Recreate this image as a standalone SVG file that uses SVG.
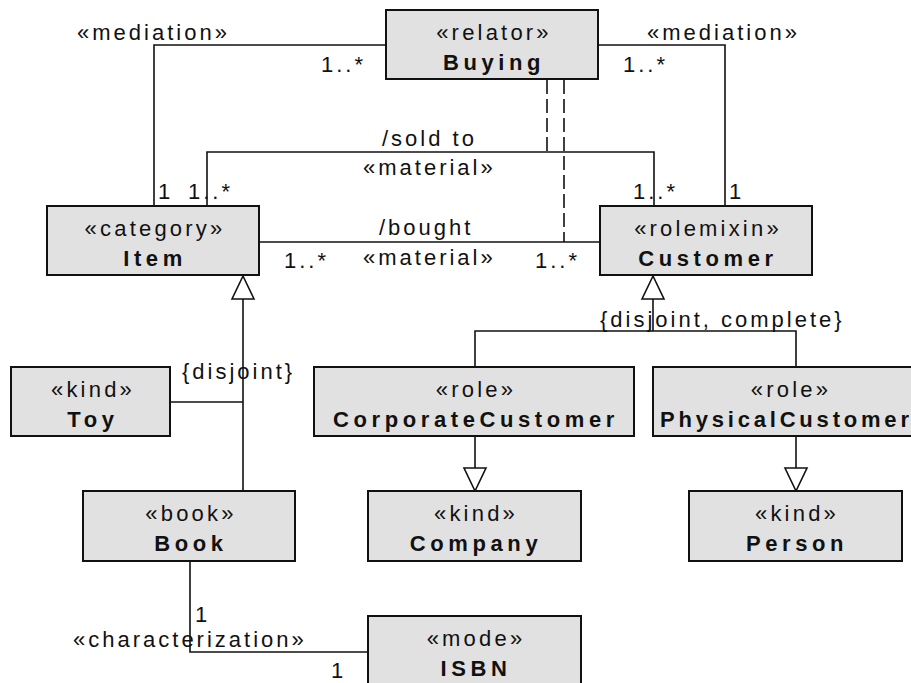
<svg xmlns="http://www.w3.org/2000/svg" width="911" height="683" viewBox="0 0 911 683">
  <style>
    .box { fill: #e1e1e1; stroke: #111; stroke-width: 2; }
    .st { font-family: "Liberation Sans", Arial, sans-serif; font-size: 22px; letter-spacing: 3.2px; fill: #111; text-anchor: middle; }
    .nm { font-family: "Liberation Sans", Arial, sans-serif; font-size: 22px; font-weight: bold; letter-spacing: 4.6px; fill: #111; text-anchor: middle; }
    .lbl { font-family: "Liberation Sans", Arial, sans-serif; font-size: 22px; letter-spacing: 3px; fill: #111; }
    .ln { fill: none; stroke: #111; stroke-width: 1.6; }
    .dash { fill: none; stroke: #111; stroke-width: 1.6; stroke-dasharray: 14 5; }
    .tri { fill: #fff; stroke: #111; stroke-width: 1.6; }
  </style>

  <!-- associations and generalizations -->
  <g id="connectors">
    <polyline class="ln" points="154,206 154,45 386,45"/>
    <polyline class="ln" points="598,45 725,45 725,206"/>
    <polyline class="ln" points="207,206 207,152 654,152 654,206"/>
    <line class="ln" x1="259" y1="242" x2="600" y2="242"/>
    <line class="dash" x1="547" y1="80" x2="547" y2="152"/>
    <line class="dash" x1="564" y1="80" x2="564" y2="242"/>

    <!-- Item specializations -->
    <line class="ln" x1="243" y1="491" x2="243" y2="299"/>
    <line class="ln" x1="170" y1="402" x2="243" y2="402"/>
    <polygon class="tri" points="243,276 232,299 254,299"/>

    <!-- Customer specializations -->
    <line class="ln" x1="653" y1="299" x2="653" y2="331"/>
    <polyline class="ln" points="475,367 475,331 796,331 796,367"/>
    <polygon class="tri" points="653,276 642,299 664,299"/>

    <line class="ln" x1="475" y1="436" x2="475" y2="468"/>
    <polygon class="tri" points="464,468 486,468 475,491"/>
    <line class="ln" x1="796" y1="436" x2="796" y2="468"/>
    <polygon class="tri" points="785,468 807,468 796,491"/>

    <!-- characterization -->
    <polyline class="ln" points="190,561 190,652 368,652"/>

    <!-- labels -->
    <text class="lbl" x="77" y="40">«mediation»</text>
    <text class="lbl" x="321" y="72">1..*</text>
    <text class="lbl" x="647" y="40">«mediation»</text>
    <text class="lbl" x="623" y="72">1..*</text>
    <text class="lbl" x="382" y="146">/sold to</text>
    <text class="lbl" x="363" y="175">«material»</text>
    <text class="lbl" x="379" y="235">/bought</text>
    <text class="lbl" x="363" y="265">«material»</text>
    <text class="lbl" x="284" y="268">1..*</text>
    <text class="lbl" x="535" y="268">1..*</text>
    <text class="lbl" x="158" y="199">1</text>
    <text class="lbl" x="188" y="199">1..*</text>
    <text class="lbl" x="633" y="199">1..*</text>
    <text class="lbl" x="729" y="199">1</text>
    <text class="lbl" x="182" y="379">{disjoint}</text>
    <text class="lbl" x="600" y="327">{disjoint, complete}</text>
    <text class="lbl" x="195" y="622">1</text>
    <text class="lbl" x="73" y="647">«characterization»</text>
    <text class="lbl" x="331" y="678">1</text>
  </g>

  <g id="buying">
    <rect class="box" x="386" y="10" width="212" height="69"/>
    <text class="st" x="494" y="40">«relator»</text>
    <text class="nm" x="494" y="70">Buying</text>
  </g>
  <g id="item">
    <rect class="box" x="47" y="206" width="212" height="69"/>
    <text class="st" x="155" y="236">«category»</text>
    <text class="nm" x="155" y="266">Item</text>
  </g>
  <g id="customer">
    <rect class="box" x="600" y="206" width="212" height="69"/>
    <text class="st" x="708" y="236">«rolemixin»</text>
    <text class="nm" x="708" y="266">Customer</text>
  </g>
  <g id="toy">
    <rect class="box" x="11" y="367" width="159" height="69"/>
    <text class="st" x="93" y="397">«kind»</text>
    <text class="nm" x="93" y="427">Toy</text>
  </g>
  <g id="corporate-customer">
    <rect class="box" x="314" y="367" width="320" height="69"/>
    <text class="st" x="476" y="397">«role»</text>
    <text class="nm" x="476" y="427">CorporateCustomer</text>
  </g>
  <g id="physical-customer">
    <rect class="box" x="653" y="367" width="274" height="69"/>
    <text class="st" x="791" y="397">«role»</text>
    <text class="nm" x="660" y="427" style="text-anchor: start; letter-spacing: 3.8px">PhysicalCustomer</text>
  </g>
  <g id="book">
    <rect class="box" x="83" y="491" width="212" height="70"/>
    <text class="st" x="191" y="521">«book»</text>
    <text class="nm" x="191" y="551">Book</text>
  </g>
  <g id="company">
    <rect class="box" x="368" y="491" width="213" height="70"/>
    <text class="st" x="476" y="521">«kind»</text>
    <text class="nm" x="476" y="551">Company</text>
  </g>
  <g id="person">
    <rect class="box" x="689" y="491" width="213" height="70"/>
    <text class="st" x="797" y="521">«kind»</text>
    <text class="nm" x="797" y="551">Person</text>
  </g>
  <g id="isbn">
    <rect class="box" x="368" y="616" width="213" height="70"/>
    <text class="st" x="476" y="646">«mode»</text>
    <text class="nm" x="476" y="676">ISBN</text>
  </g>
</svg>
